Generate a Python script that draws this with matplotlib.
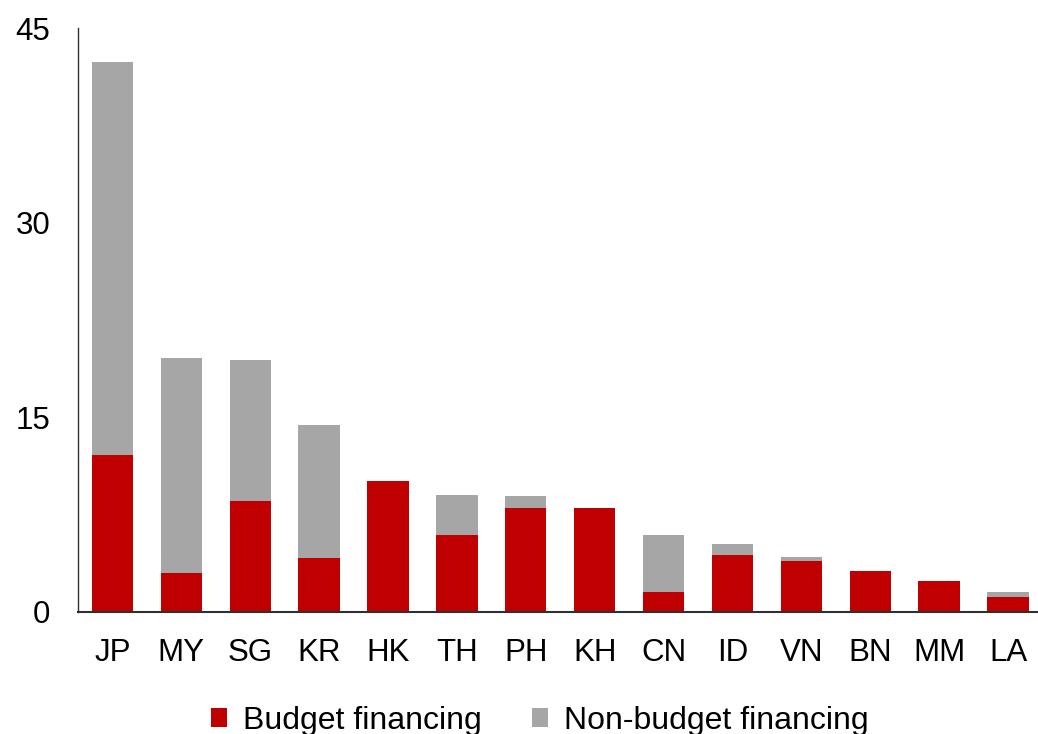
import matplotlib
matplotlib.use('Agg')
import matplotlib.pyplot as plt
import numpy as np

plt.rcParams['font.family'] = ['Liberation Sans', 'DejaVu Sans']

# 各经济体融资结构
countries = ['JP', 'MY', 'SG', 'KR', 'HK', 'TH', 'PH', 'KH', 'CN', 'ID', 'VN', 'BN', 'MM', 'LA']
budget = [12.1, 3.0, 8.55, 4.15, 10.1, 5.9, 8.0, 8.0, 1.5, 4.35, 3.95, 3.15, 2.35, 1.15]
non_budget = [30.3, 16.6, 10.85, 10.25, 0, 3.1, 0.93, 0, 4.4, 0.9, 0.25, 0, 0, 0.4]
y_ticks = [0, 15, 30, 45]

RED = '#C00000'
GREY = '#A6A6A6'

fig = plt.figure(figsize=(10.38, 7.34), dpi=100)
ax = fig.add_axes([0.0751, 0.1666, 0.9292, 0.7946])

x = np.arange(len(countries))
ax.bar(x, budget, width=0.6, color=RED, label='Budget financing')
ax.bar(x, non_budget, width=0.6, bottom=budget, color=GREY, label='Non-budget financing')

ax.set_xlim(-0.5, len(countries) - 0.5)
ax.set_ylim(0, 45)
ax.set_yticks(y_ticks)
ax.set_xticks(x)
ax.set_xticklabels(countries)
ax.tick_params(axis='both', length=0, labelsize=22.5)
ax.tick_params(axis='y', pad=20)
ax.tick_params(axis='x', pad=19)

for side in ['top', 'right']:
    ax.spines[side].set_visible(False)
ax.spines['left'].set_color('#303030')
ax.spines['left'].set_linewidth(1.0)
ax.spines['bottom'].set_color('#303030')
ax.spines['bottom'].set_linewidth(1.5)

fig.legend(loc='center', bbox_to_anchor=(0.52, 0.018), ncol=2, frameon=False,
           fontsize=23, handlelength=0.5, handleheight=0.5, handletextpad=0.5,
           columnspacing=1.6)

fig.savefig('out.png', dpi=100)
